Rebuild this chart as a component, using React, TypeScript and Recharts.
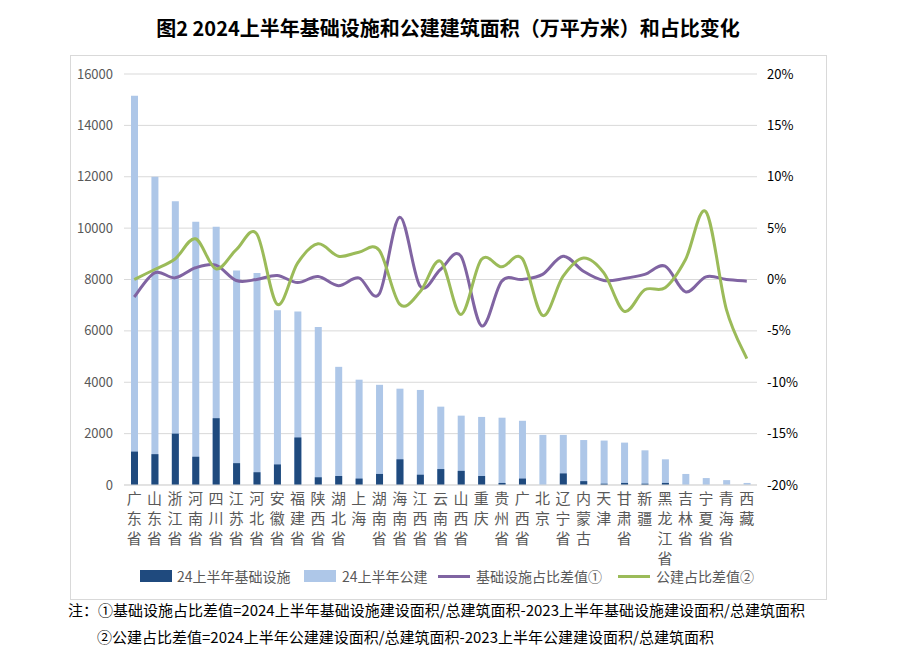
import React from "react";
import {
  ComposedChart,
  Bar,
  Line,
  XAxis,
  YAxis,
  CartesianGrid,
} from "recharts";

const FONT = '"Noto Sans CJK SC", "Noto Sans", sans-serif';

const provinces = [
  "广东省", "山东省", "浙江省", "河南省", "四川省", "江苏省", "河北省", "安徽省",
  "福建省", "陕西省", "湖北省", "上海", "湖南省", "海南省", "江西省", "云南省",
  "山西省", "重庆", "贵州省", "广西省", "北京", "辽宁省", "内蒙古", "天津",
  "甘肃省", "新疆", "黑龙江省", "吉林省", "宁夏省", "青海省", "西藏",
];

// 24上半年基础设施（万平方米）
const jichu = [
  1300, 1200, 2000, 1100, 2600, 850, 500, 800, 1850, 300, 350, 250, 430, 1000, 400, 620,
  550, 350, 80, 250, 0, 450, 150, 50, 80, 50, 80, 0, 0, 0, 0,
];

// 24上半年公建（万平方米）
const gongjian = [
  15150, 12000, 11050, 10250, 10050, 8350, 8250, 6800, 6750, 6150, 4600, 4100, 3900, 3750,
  3700, 3050, 2700, 2650, 2620, 2500, 1950, 1950, 1750, 1730, 1650, 1350, 1000, 430, 270,
  190, 80,
];

// 基础设施占比差值（%）
const jichuDiff = [
  -1.7, 0.65, 0.16, 1.14, 1.4, -0.1, 0.0, 0.39, -0.3, 0.3, -0.6, 0.16, -1.4, 6.06, -0.65,
  0.97, 2.27, -4.5, -0.16, 0.0, 0.5, 2.27, 0.8, -0.1, 0.1, 0.5, 1.3, -1.2, 0.26, 0.0, -0.16,
];

// 公建占比差值（%）
const gongjianDiff = [
  0.0, 0.97, 2.0, 3.96, 1.04, 2.9, 4.44, -2.4, 1.6, 3.47, 2.27, 2.66, 2.85, -2.4, -1.2,
  1.78, -3.4, 1.95, 1.23, 2.04, -3.5, 0.3, 2.1, 0.65, -3.1, -1.0, -0.8, 1.95, 6.6, -2.9, -7.7,
];

const leftTicks = [0, 2000, 4000, 6000, 8000, 10000, 12000, 14000, 16000];
const rightTicks = [-20, -15, -10, -5, 0, 5, 10, 15, 20];

const data = provinces.map((name, i) => ({
  name,
  jichu: jichu[i],
  gongjian: gongjian[i],
  jichuDiff: jichuDiff[i],
  gongjianDiff: gongjianDiff[i],
}));

// smooth curve through every point (Catmull-Rom as bezier), like Excel's smoothed lines
function smoothCurve(context: any) {
  let pts: [number, number][] = [];
  return {
    areaStart() {},
    areaEnd() {},
    lineStart() {
      pts = [];
    },
    point(x: number, y: number) {
      pts.push([+x, +y]);
    },
    lineEnd() {
      if (!pts.length) return;
      context.moveTo(pts[0][0], pts[0][1]);
      const t = 1 / 6;
      for (let i = 0; i < pts.length - 1; i++) {
        const p0 = pts[i - 1] || pts[i];
        const p1 = pts[i];
        const p2 = pts[i + 1];
        const p3 = pts[i + 2] || p2;
        context.bezierCurveTo(
          p1[0] + (p2[0] - p0[0]) * t,
          p1[1] + (p2[1] - p0[1]) * t,
          p2[0] - (p3[0] - p1[0]) * t,
          p2[1] - (p3[1] - p1[1]) * t,
          p2[0],
          p2[1]
        );
      }
    },
  };
}

// province names written top to bottom, one character per line
function ProvinceTick({ x, y, payload }: any) {
  const chars = Array.from(String(payload.value));
  return (
    <text x={x} y={y} textAnchor="middle" fill="#595959" fontSize={15} fontFamily={FONT}>
      {chars.map((c, i) => (
        <tspan key={i} x={x} dy={i === 0 ? 11 : 20}>
          {c}
        </tspan>
      ))}
    </text>
  );
}

const legendItems = [
  { label: "24上半年基础设施", color: "#1F4A7E", kind: "rect", left: 140, textLeft: 177 },
  { label: "24上半年公建", color: "#AEC7E8", kind: "rect", left: 304, textLeft: 342 },
  { label: "基础设施占比差值①", color: "#8064A2", kind: "line", left: 438, textLeft: 476 },
  { label: "公建占比差值②", color: "#9BBB59", kind: "line", left: 618, textLeft: 656 },
];

export default function App() {
  return (
    <div
      style={{
        position: "absolute",
        left: 0,
        top: 0,
        width: 900,
        height: 662,
        background: "#fff",
        fontFamily: FONT,
        overflow: "hidden",
      }}
    >
      {/* chart frame */}
      <div
        style={{
          position: "absolute",
          left: 70,
          top: 55,
          width: 757,
          height: 545,
          border: "1px solid #d9d9d9",
          boxSizing: "border-box",
        }}
      />

      <div
        style={{
          position: "absolute",
          left: 0,
          top: 16,
          width: 896,
          textAlign: "center",
          fontSize: 20,
          lineHeight: "24px",
          fontWeight: 700,
          color: "#000",
        }}
      >
        图2 2024上半年基础设施和公建建筑面积（万平方米）和占比变化
      </div>

      <div style={{ position: "absolute", left: 0, top: 0 }}>
        <ComposedChart
          width={900}
          height={662}
          data={data}
          barGap={-7}
          margin={{ top: 74, right: 93, bottom: 147, left: 74 }}
        >
          <CartesianGrid vertical={false} stroke="#d9d9d9" yAxisId="left" />
          <XAxis
            dataKey="name"
            interval={0}
            tickLine={false}
            axisLine={{ stroke: "#d9d9d9" }}
            tick={<ProvinceTick />}
            height={30}
          />
          <YAxis
            yAxisId="left"
            domain={[0, 16000]}
            ticks={leftTicks}
            axisLine={false}
            tickLine={false}
            tickMargin={5}
            width={50}
            tick={{ fill: "#595959", fontSize: 13, fontFamily: FONT }}
          />
          <YAxis
            yAxisId="right"
            orientation="right"
            domain={[-20, 20]}
            ticks={rightTicks}
            axisLine={false}
            tickLine={false}
            tickMargin={4}
            width={50}
            tickFormatter={(v: number) => `${v}%`}
            tick={{ fill: "#000", fontSize: 13, fontFamily: FONT }}
          />
          <Bar yAxisId="left" dataKey="gongjian" fill="#AEC7E8" barSize={7} isAnimationActive={false} />
          <Bar yAxisId="left" dataKey="jichu" fill="#1F4A7E" barSize={7} isAnimationActive={false} />
          <Line
            yAxisId="right"
            dataKey="jichuDiff"
            type={smoothCurve as any}
            stroke="#8064A2"
            strokeWidth={3}
            dot={false}
            activeDot={false}
            isAnimationActive={false}
          />
          <Line
            yAxisId="right"
            dataKey="gongjianDiff"
            type={smoothCurve as any}
            stroke="#9BBB59"
            strokeWidth={3}
            dot={false}
            activeDot={false}
            isAnimationActive={false}
          />
        </ComposedChart>
      </div>

      {/* legend */}
      {legendItems.map((item) => (
        <React.Fragment key={item.label}>
          <div
            style={{
              position: "absolute",
              left: item.left,
              top: item.kind === "rect" ? 570 : 575,
              width: 32,
              height: item.kind === "rect" ? 12 : 3,
              background: item.color,
            }}
          />
          <div
            style={{
              position: "absolute",
              left: item.textLeft,
              top: 567,
              fontSize: 14,
              lineHeight: "18px",
              color: "#595959",
              whiteSpace: "nowrap",
            }}
          >
            {item.label}
          </div>
        </React.Fragment>
      ))}

      {/* notes */}
      <div
        style={{
          position: "absolute",
          left: 68,
          top: 600,
          fontSize: 15,
          lineHeight: "20px",
          color: "#000",
          whiteSpace: "nowrap",
        }}
      >
        注：①基础设施占比差值=2024上半年基础设施建设面积/总建筑面积-2023上半年基础设施建设面积/总建筑面积
      </div>
      <div
        style={{
          position: "absolute",
          left: 97,
          top: 627,
          fontSize: 15,
          lineHeight: "20px",
          color: "#000",
          whiteSpace: "nowrap",
        }}
      >
        ②公建占比差值=2024上半年公建建设面积/总建筑面积-2023上半年公建建设面积/总建筑面积
      </div>
    </div>
  );
}
